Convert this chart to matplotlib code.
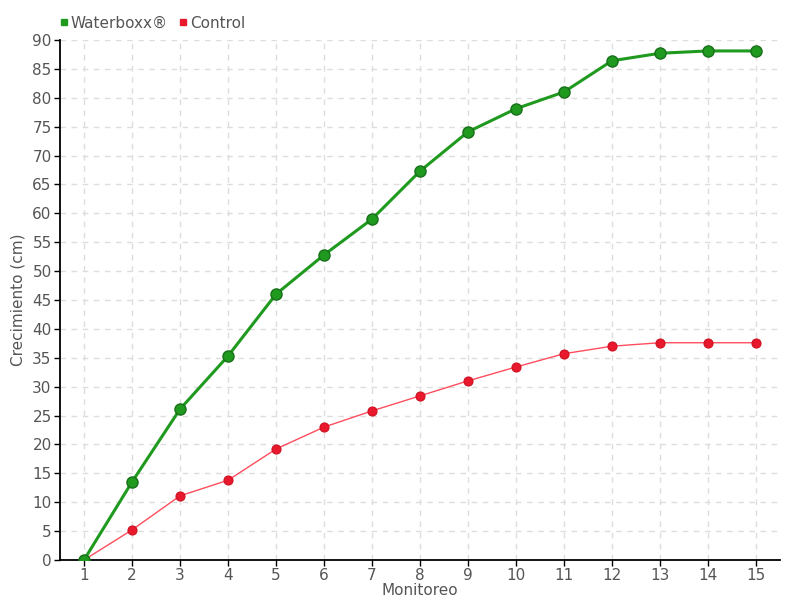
import matplotlib.pyplot as plt
from matplotlib.lines import Line2D

monitoreo = list(range(1, 16))
waterboxx = [0, 13.5, 26.1, 35.3, 46.0, 52.8, 59.0, 67.3, 74.1, 78.1, 81.0, 86.4, 87.7, 88.1, 88.1]
control = [0, 5.2, 11.1, 13.8, 19.2, 23.0, 25.8, 28.4, 31.0, 33.4, 35.7, 37.0, 37.6, 37.6, 37.6]
y_ticks = list(range(0, 91, 5))

txt = '#555555'
green = '#1f9a1f'
red = '#e8192c'

fig = plt.figure(figsize=(8, 6), dpi=100)
ax = fig.add_axes([0.075, 0.0667, 0.9, 0.8667])

ax.plot(monitoreo, control, color='#ff4d5e', lw=1, zorder=3)
ax.plot(monitoreo, control, 'o', color=red, ms=6.5, mec='#d01020', mew=0.8, zorder=4)
ax.plot(monitoreo, waterboxx, color=green, lw=2.2, zorder=5)
ax.plot(monitoreo, waterboxx, 'o', color=green, ms=8, mec='#17701a', mew=1, zorder=6)

ax.set_xlim(0.5, 15.5)
ax.set_ylim(0, 90)
ax.set_xticks(monitoreo)
ax.set_yticks(y_ticks)
ax.grid(True, color='#dddddd', ls=(0, (4, 4)), lw=1)
ax.set_axisbelow(True)
for s in ['top', 'right']:
    ax.spines[s].set_visible(False)
for s in ['left', 'bottom']:
    ax.spines[s].set_linewidth(1.3)
ax.tick_params(labelsize=11, colors='black', labelcolor=txt, length=4, width=1, pad=2)
ax.set_xlabel('Monitoreo', color=txt, fontsize=11, labelpad=0)
ax.set_ylabel('Crecimiento (cm)', color=txt, fontsize=11)
ax.yaxis.set_label_coords(-0.048, 0.5)

handles = [Line2D([], [], marker='s', ls='', color=green, ms=5),
           Line2D([], [], marker='s', ls='', color=red, ms=5)]
fig.legend(handles, ['Waterboxx®', 'Control'], loc='upper left', bbox_to_anchor=(0.055, 0.997),
           ncol=2, frameon=False, fontsize=11, labelcolor=txt, handletextpad=0.05,
           columnspacing=0.6, handlelength=0.8)

fig.savefig('out.png', dpi=100)
